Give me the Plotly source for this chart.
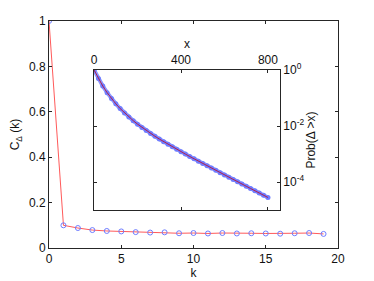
import plotly.graph_objects as go

# Main chart data
k_vals = list(range(20))
c_delta = [1.0, 0.10, 0.088, 0.079, 0.075, 0.073, 0.070, 0.068, 0.069, 0.065,
           0.066, 0.064, 0.066, 0.064, 0.065, 0.064, 0.063, 0.065, 0.066, 0.062]
main_xticks = [0, 5, 10, 15, 20]
main_yticks = [0, 0.2, 0.4, 0.6, 0.8, 1]
main_yticktext = ["0", "0.2", "0.4", "0.6", "0.8", "1"]

# Inset data: Prob(Delta > x)
inset_x = list(range(0, 801, 20))
inset_prob = [1.0, 0.497, 0.268, 0.156, 0.0959, 0.0622, 0.0421, 0.0294, 0.0211, 0.0156,
              0.0117, 0.00895, 0.00697, 0.00546, 0.00432, 0.00345, 0.00278, 0.00224,
              0.00182, 0.00149, 0.00122, 0.00100, 8.20e-4, 6.76e-4, 5.58e-4, 4.62e-4,
              3.82e-4, 3.16e-4, 2.62e-4, 2.17e-4, 1.80e-4, 1.49e-4, 1.24e-4, 1.03e-4,
              8.55e-5, 7.11e-5, 5.90e-5, 4.91e-5, 4.08e-5, 3.39e-5, 2.82e-5]
inset_xticks = [0, 400, 800]
inset_yticks = [1, 1e-2, 1e-4]
inset_yticktext = ["10<sup>0</sup>", "10<sup>-2</sup>", "10<sup>-4</sup>"]

RED = "#ff5a5a"
BLUE = "#6f7dff"
AX = "#262626"

fig = go.Figure()
fig.add_trace(go.Scatter(x=k_vals, y=c_delta, mode="lines+markers",
                         line=dict(color=RED, width=1),
                         marker=dict(symbol="circle-open", size=5, color=BLUE, line=dict(width=1, color=BLUE)),
                         xaxis="x", yaxis="y", showlegend=False))
fig.add_trace(go.Scatter(x=inset_x, y=inset_prob, mode="lines+markers",
                         line=dict(color="#8a96ff", width=4),
                         marker=dict(symbol="circle", size=5, color=BLUE),
                         xaxis="x2", yaxis="y2", showlegend=False))
fig.add_trace(go.Scatter(x=inset_x, y=inset_prob, mode="lines",
                         line=dict(color="#b02050", width=1),
                         xaxis="x2", yaxis="y2", showlegend=False))

font = dict(family="Liberation Sans, Arial, sans-serif", size=12, color="#111")
axis_common = dict(showgrid=False, zeroline=False, showline=True, linecolor=AX, linewidth=1,
                   ticks="inside", ticklen=3, tickcolor=AX, mirror="ticks", tickfont=font,
                   automargin=False)

# page body has an 8px offset, so the figure is 8px smaller with margins reduced accordingly
fig.update_layout(
    width=366, height=273,
    margin=dict(l=41, r=36, t=13, b=33),
    paper_bgcolor="white", plot_bgcolor="white",
    font=font,
    xaxis=dict(axis_common, range=[0, 20], tickvals=main_xticks, domain=[0, 1],
               title=dict(text="k", font=font, standoff=0)),
    yaxis=dict(axis_common, range=[0, 1], tickvals=main_yticks, ticktext=main_yticktext, domain=[0, 1],
               title=dict(text="C<sub>Δ</sub> (k)", font=font, standoff=6)),
    xaxis2=dict(axis_common, range=[0, 855], tickvals=inset_xticks, side="top",
                domain=[0.156, 0.799], anchor="y2",
                title=dict(text="x", font=font, standoff=2)),
    yaxis2=dict(axis_common, type="log", range=[-5, 0], tickvals=inset_yticks, ticktext=inset_yticktext,
                side="right", domain=[0.167, 0.784], anchor="x2",
                title=dict(text="Prob(Δ >x)", font=font, standoff=2)),
)
# white background for the inset
fig.add_shape(type="rect", xref="x2 domain", yref="y2 domain", x0=0, x1=1, y0=0, y1=1,
              fillcolor="white", line=dict(width=0), layer="below")

fig.write_html("out.html")
